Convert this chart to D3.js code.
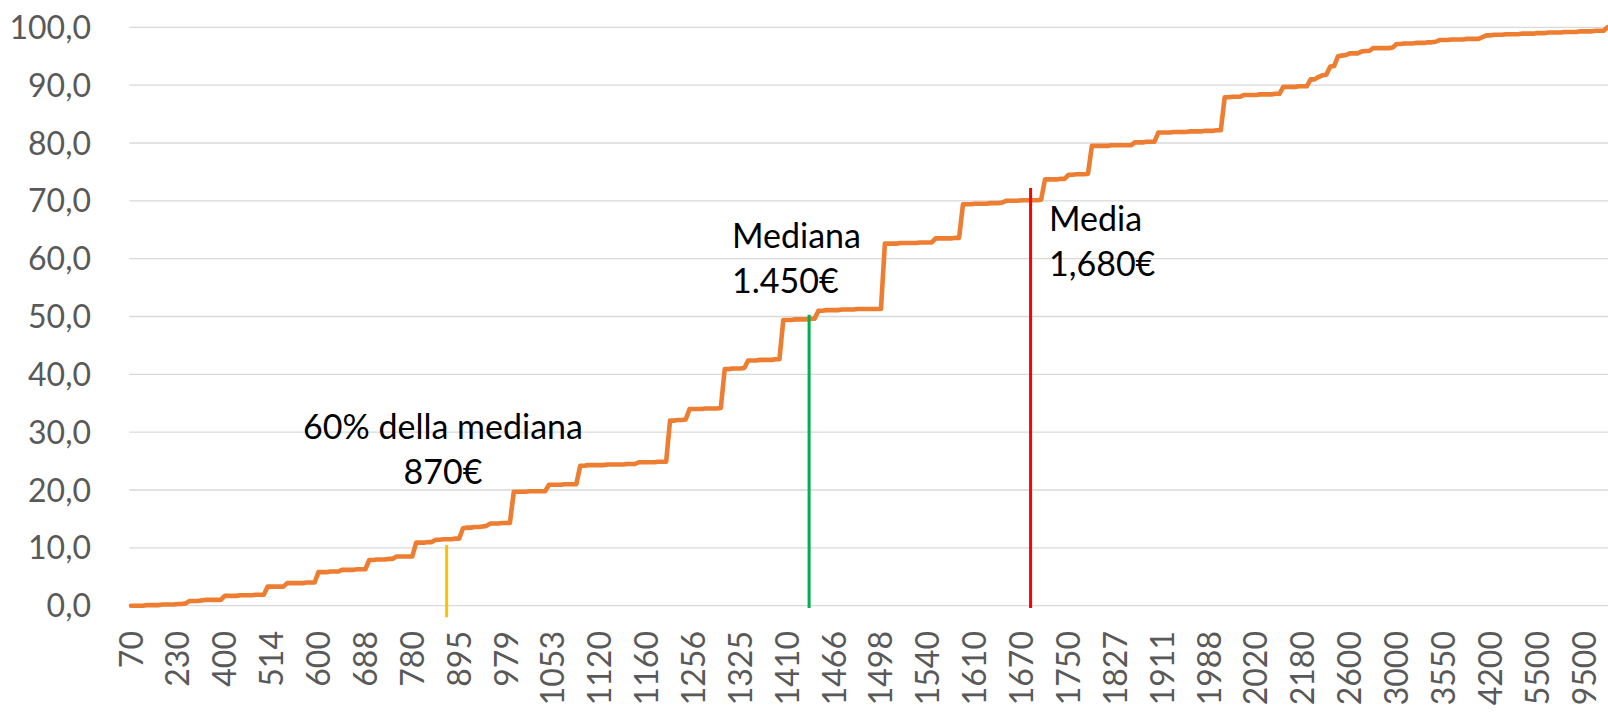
<!DOCTYPE html>
<html>
<head>
<meta charset="utf-8">
<script src="https://cdn.jsdelivr.net/npm/d3@7/dist/d3.min.js"></script>
<style>
  html, body { margin: 0; padding: 0; background: #ffffff; }
  svg { display: block; }
</style>
</head>
<body>
<svg id="chart" width="1608" height="715"></svg>
<script>
// ---------- DATA ----------
// Cumulative share of people (%) by sorted income category
const cumPct = [
  0.0,0.0,0.0,0.0, 0.1,0.1,0.1,0.1, 0.2,0.2,0.2,0.2, 0.3,0.3, 0.4,
  0.8,0.8,0.8, 0.9, 1.0,1.0,1.0,1.0,1.0,
  1.7,1.7,1.7,1.7,1.8,1.8,1.8,1.8,1.9,1.9,1.9,
  3.3,3.3,3.3,3.3,3.3,
  3.9,3.9,3.9,3.9,3.9,4.0,4.0,4.0,
  5.8,5.8,5.8,5.9,5.9,5.9,
  6.2,6.2,6.2,6.2,6.3,6.3,6.3,
  7.9,7.9,8.0,8.0,8.0,8.1,8.1,
  8.5,8.5,8.5,8.5,8.5,
  10.9,10.9,10.9,11.0,11.0,
  11.4,11.4,11.5,11.5,11.5,11.6,11.6,
  13.4,13.5,13.5,13.6,13.6,13.7,13.8,
  14.2,14.2,14.2,14.3,14.3,14.3,
  19.7,19.7,19.7,19.7,19.8,19.8,19.8,19.8,19.8,
  20.9,20.9,20.9,20.9,21.0,21.0,21.0,21.0,
  24.2,24.2,24.3,24.3,24.3,24.3,24.3,24.4,24.4,24.4,24.4,24.4,24.5,24.5,24.5,
  24.8,24.8,24.8,24.8,24.8,24.9,24.9,24.9,
  32.0,32.0,32.1,32.1,32.2,
  34.0,34.0,34.0,34.0,34.1,34.1,34.1,34.1,34.2,
  40.9,40.9,41.0,41.0,41.0,41.1,
  42.4,42.4,42.4,42.5,42.5,42.5,42.5,42.6,42.6,
  49.4,49.4,49.4,49.5,49.5,49.5,49.5,49.6,49.6,
  51.0,51.0,51.1,51.1,51.1,51.1,51.2,51.2,51.2,51.2,51.3,51.3,51.3,51.3,51.3,51.3,51.3,
  62.6,62.6,62.6,62.6,62.7,62.7,62.7,62.7,62.7,62.8,62.8,62.8,62.8,
  63.5,63.5,63.5,63.5,63.5,63.6,63.6,
  69.4,69.4,69.4,69.5,69.5,69.5,69.5,69.6,69.6,69.6,69.7,
  70.0,70.0,70.0,70.0,70.1,70.1,70.1,70.1,70.1,70.2,
  73.7,73.7,73.7,73.7,73.8,73.8,
  74.5,74.5,74.6,74.6,74.6,74.7,
  79.5,79.5,79.5,79.5,79.5,79.6,79.6,79.6,79.6,79.6,79.6,
  80.1,80.1,80.1,80.2,80.2,80.2,
  81.8,81.8,81.8,81.8,81.9,81.9,81.9,81.9,82.0,82.0,82.0,82.0,82.1,82.1,82.1,82.2,82.2,
  87.9,87.9,88.0,88.0,88.0,
  88.3,88.3,88.3,88.3,88.4,88.4,88.4,88.4,88.5,88.5,
  89.7,89.7,89.7,89.7,89.8,89.8,89.8,
  91.0,91.0, 91.4, 91.7,91.8, 93.2,93.3, 95.0,
  95.1,95.2,95.5,95.5,95.5,
  95.8,95.9,95.9,
  96.4,96.4,96.4,96.4,96.4,96.5,
  97.1,97.1,97.2,97.2,97.2,97.3,97.3,97.3,97.4,97.4, 97.5,
  97.8,97.8,97.8,97.9,97.9,97.9,97.9,98.0,98.0,98.0,98.0, 98.3,
  98.6,98.6,98.7,98.7,98.7,98.8,98.8,98.8,98.8,98.9,98.9,98.9,98.9,99.0,99.0,99.0,
  99.1,99.1,99.1,99.1,99.2,99.2,99.2,99.2,99.3,99.3,99.3,99.3,99.4,99.4,99.4,
  100.0
];

// Income category labels shown on the axis (one every `tickEvery` categories)
const tickLabels = ["70","230","400","514","600","688","780","895","979","1053","1120",
  "1160","1256","1325","1410","1466","1498","1540","1610","1670","1750","1827","1911",
  "1988","2020","2180","2600","3000","3550","4200","5500","9500"];
const tickEvery = 12;

const yTicks = [0,10,20,30,40,50,60,70,80,90,100];

// Reference lines: category position, top value, label lines
const markerNames = ["soglia", "mediana", "media"];
const markerPos   = [80.8, 173.6, 230.3];
const markerTop   = [10.5, 50.3, 72.2];
const markerBottom= [-2.0, -0.4, -0.4];
const markerText  = [["60% della mediana", "870€"], ["Mediana", "1.450€"], ["Media", "1,680€"]];

// ---------- CHART ----------
(function () {
const W = 1608, H = 715;
const plotLeft = 131, plotRight = 1607.5, plotTop = 27.3, plotBottom = 605.7;
const FONT = "Lato, 'Open Sans', 'Noto Sans', sans-serif";

const svg = d3.select("#chart");

const x = d3.scaleLinear().domain([0, cumPct.length - 1]).range([plotLeft, plotRight]);
const y = d3.scaleLinear().domain([0, 100]).range([plotBottom, plotTop]);

const it = d3.formatLocale({decimal: ",", thousands: ".", grouping: [3], currency: ["", "€"]});
const fmt = it.format(".1f");

// gridlines
svg.append("g").selectAll("line").data(yTicks).join("line")
  .attr("x1", plotLeft - 1.7).attr("x2", W)
  .attr("y1", d => y(d)).attr("y2", d => y(d))
  .attr("stroke", "#d9d9d9").attr("stroke-width", 1.3);

// y-axis labels
svg.append("g").selectAll("text").data(yTicks).join("text")
  .attr("x", 91).attr("y", d => y(d)).attr("dy", "0.36em")
  .attr("text-anchor", "end")
  .attr("font-family", FONT).attr("font-size", 32).attr("fill", "#595959")
  .text(d => fmt(d));

// x-axis labels (rotated)
svg.append("g").selectAll("text").data(tickLabels).join("text")
  .attr("transform", (d, i) => `translate(${x(i * tickEvery)},631) rotate(-90)`)
  .attr("dy", "0.36em")
  .attr("text-anchor", "end")
  .attr("font-family", FONT).attr("font-size", 32).attr("fill", "#595959")
  .text(d => d);

// line
const line = d3.line().x((d, i) => x(i)).y(d => y(d));
svg.append("path").datum(cumPct)
  .attr("d", line)
  .attr("fill", "none")
  .attr("stroke", "#ed7d31")
  .attr("stroke-width", 4.6)
  .attr("stroke-linejoin", "round")
  .attr("stroke-linecap", "round");

// marker lines
const markerColors = ["#ffc000", "#00b050", "#ff0000"];
svg.append("g").selectAll("line").data(markerNames).join("line")
  .attr("x1", (d, i) => x(markerPos[i])).attr("x2", (d, i) => x(markerPos[i]))
  .attr("y1", (d, i) => y(markerTop[i])).attr("y2", (d, i) => y(markerBottom[i]))
  .attr("stroke", (d, i) => markerColors[i]).attr("stroke-width", 3);

// annotations
const annoX = [443, 732, 1049];
const annoY = [438.5, 247.7, 230.7];
const annoAnchor = ["middle", "start", "start"];
const annoGap = [45.5, 45, 45.3];
markerNames.forEach((m, i) => {
  const t = svg.append("text")
    .attr("font-family", FONT).attr("font-size", 34).attr("fill", "#000000")
    .attr("text-anchor", annoAnchor[i]);
  markerText[i].forEach((ln, j) => {
    t.append("tspan").attr("x", annoX[i]).attr("y", annoY[i] + j * annoGap[i]).text(ln);
  });
});
})();
</script>
</body>
</html>
